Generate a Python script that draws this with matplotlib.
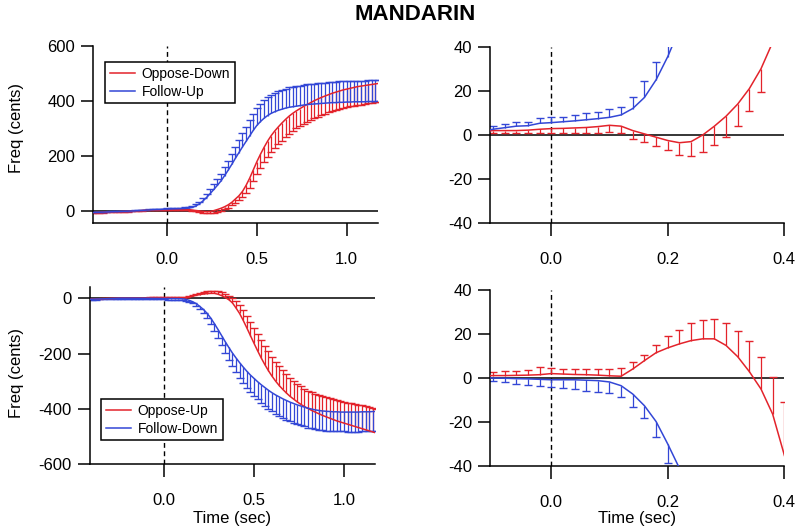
import numpy as np
import matplotlib
matplotlib.use("Agg")
import matplotlib.pyplot as plt

plt.rcParams['font.family'] = ['Liberation Sans', 'DejaVu Sans']
plt.rcParams['axes.unicode_minus'] = False

RED = '#e3232b'
BLUE = '#3347d6'

# sample grid: -0.42 s ... 1.18 s, every 0.02 s (81 samples)
t_start, t_step = -0.42, 0.02

# --- top row: Oppose-Down / Follow-Up (cents) ---
follow_up = [
    -7, -6.5, -6, -5.5, -5, -4.5, -4, -3.5, -3, -2.5,
    -2, -1.5, -0.8, 0, 0.8, 1.8, 2.6, 3.3, 4.0, 4.2,
    5.3, 5.6, 6.0, 6.4, 6.9, 7.4, 8.0, 9.1, 12, 17,
    25, 35.5, 48, 62, 77, 92, 108, 127, 147, 168,
    190, 211, 232, 252, 272, 292, 310, 324, 336, 346,
    354, 360, 365, 369, 373, 376, 378, 380, 382, 384,
    386, 387, 388, 389, 390, 391, 392, 393, 393, 394,
    394, 395, 395, 396, 396, 396, 396, 397, 397, 397,
    398]
follow_up_err = [
    1.5, 1.5, 1.5, 1.5, 1.5, 1.5, 1.5, 1.5, 1.5, 1.5,
    1.5, 1.5, 1.5, 1.5, 1.5, 1.5, 1.6, 1.5, 1.9, 1.7,
    2.4, 2.4, 2.3, 2.7, 3.1, 2.9, 3.6, 3.4, 5.0, 7.4,
    8, 9, 12, 15, 19, 23, 27, 31, 35, 39,
    43, 47, 51, 54, 57, 60, 62, 64, 66, 67,
    68, 69, 70, 71, 71, 72, 72, 73, 73, 73,
    74, 74, 74, 74, 75, 75, 75, 75, 76, 76,
    76, 76, 76, 77, 77, 77, 77, 77, 78, 78,
    78]
oppose_down = [
    -8, -7, -6.5, -6, -5.5, -5, -4.5, -4, -3.5, -3,
    -2.5, -2, -1.2, -0.5, 0.5, 1.5, 2.0, 2.0, 2.0, 2.2,
    2.6, 2.9, 3.0, 3.2, 3.4, 3.8, 4.4, 4.0, 2.0, 0.5,
    -1.0, -2.5, -3.5, -3.0, 0.0, 4.0, 8.5, 14, 21, 30,
    42, 54, 70, 92, 118, 148, 178, 205, 230, 253,
    273, 290, 305, 319, 332, 344, 354, 363, 371, 379,
    386, 393, 400, 406, 412, 417, 422, 427, 431, 435,
    439, 442, 445, 448, 451, 453, 455, 457, 459, 461,
    463]
oppose_down_err = [
    1.0, 1.0, 1.0, 1.0, 1.0, 1.0, 1.0, 1.0, 1.0, 1.0,
    1.0, 1.0, 1.0, 1.0, 1.0, 1.0, 1.0, 1.0, 1.1, 1.2,
    1.6, 2.0, 2.0, 2.2, 2.4, 2.8, 2.9, 3.2, 3.8, 3.5,
    4.0, 4.5, 5.4, 6.4, 7.5, 8.4, 9.2, 9.8, 10.1, 10.4,
    13, 17, 22, 28, 34, 40, 45, 50, 54, 57,
    60, 62, 63, 64, 64, 64, 64, 64, 64, 64,
    64, 64, 64, 64, 65, 65, 65, 65, 65, 65,
    66, 66, 66, 66, 66, 67, 67, 67, 67, 67,
    67]

# --- bottom row: Oppose-Up / Follow-Down (cents) ---
oppose_up = [
    -4, -3.5, -3, -2.5, -2, -1.5, -1, -0.5, 0, 0.3,
    0.5, 0.6, 0.7, 0.8, 0.9, 1.0, 1.1, 1.1, 1.2, 1.3,
    1.5, 2.0, 1.8, 1.6, 1.5, 1.3, 1.0, 0.8, 4.1, 7.9,
    11.5, 13.7, 15.5, 17.0, 17.8, 17.8, 14.8, 9.7, 2.9, -5.0,
    -16.4, -35, -55, -80, -107, -135, -163, -190, -216, -240,
    -262, -282, -300, -316, -330, -343, -355, -365, -375, -384,
    -392, -399, -406, -412, -418, -424, -429, -434, -439, -444,
    -448, -452, -456, -460, -464, -468, -472, -476, -480, -484,
    -488]
oppose_up_err = [
    1.5, 1.5, 1.5, 1.5, 1.5, 1.5, 1.5, 1.5, 1.5, 1.5,
    1.5, 1.5, 1.5, 1.5, 1.5, 1.5, 1.5, 1.9, 1.9, 2.3,
    3.4, 2.6, 2.5, 2.4, 2.6, 2.8, 2.9, 3.6, 3.0, 2.7,
    3.7, 5.3, 6.5, 7.8, 8.4, 9.0, 10.3, 11.7, 13.7, 14.4,
    16.7, 23.9, 30, 37, 44, 50, 56, 61, 65, 68,
    70, 71, 71, 71, 70, 69, 68, 67, 66, 65,
    65, 65, 66, 67, 68, 69, 70, 72, 73, 74,
    76, 77, 78, 80, 81, 82, 84, 85, 86, 87,
    88]
follow_down = [
    -4, -3.5, -3, -2.5, -2, -1.5, -1, -0.5, 0, 0.3,
    0.4, 0.4, 0.4, 0.3, 0.2, 0.1, 0.0, -0.1, -0.3, -0.4,
    -0.6, -0.8, -0.8, -0.8, -1.0, -1.2, -1.8, -3.5, -7.3, -12.6,
    -19.8, -30, -41, -55, -72, -92, -113, -135, -157, -178,
    -198, -216, -233, -249, -264, -278, -290, -302, -313, -323,
    -333, -342, -350, -357, -364, -370, -376, -381, -386, -390,
    -394, -398, -401, -404, -406, -408, -409, -410, -411, -411,
    -412, -412, -412, -412, -412, -412, -411, -411, -411, -410,
    -410]
follow_down_err = [
    1.5, 1.5, 1.5, 1.5, 1.5, 1.5, 1.5, 1.5, 1.5, 1.5,
    1.5, 1.5, 1.5, 1.5, 1.5, 1.5, 1.5, 1.9, 2.4, 2.8,
    3.0, 3.2, 3.6, 4.2, 4.8, 5.0, 5.2, 5.0, 5.7, 5.8,
    6.8, 8.8, 12, 16, 20, 25, 30, 35, 40, 44,
    48, 52, 55, 58, 60, 62, 63, 64, 65, 66,
    67, 67, 68, 68, 68, 69, 69, 69, 69, 69,
    70, 70, 70, 70, 70, 70, 70, 70, 70, 70,
    70, 70, 71, 71, 71, 71, 71, 71, 71, 71,
    71]

time_s = np.round(t_start + t_step * np.arange(len(follow_up)), 2)

W, H = 796, 531
FS = 12
fig = plt.figure(figsize=(W / 100, H / 100), dpi=100)


def px_axes(x0, y_top, x1, y_bot):
    # axes box given in pixel coords of the reference image
    return fig.add_axes([x0 / W, 1 - y_bot / H, (x1 - x0) / W, (y_bot - y_top) / H])


def style(ax, xlim, ylim, xticks, yticks, xfmt):
    ax.set_xlim(xlim)
    ax.set_ylim(ylim)
    ax.set_xticks(xticks)
    ax.set_yticks(yticks)
    ax.set_xticklabels([xfmt.format(v) for v in xticks])
    ax.set_yticklabels(['{:d}'.format(v) for v in yticks])
    for s in ('top', 'right'):
        ax.spines[s].set_visible(False)
    for s in ('left', 'bottom'):
        ax.spines[s].set_linewidth(1.1)
    ax.tick_params(direction='out', length=9, width=1.1, labelsize=FS)
    ax.tick_params(axis='x', pad=12)
    ax.tick_params(axis='y', pad=4)
    ax.axhline(0, color='black', lw=1.1, zorder=1)
    ax.axvline(0, color='black', lw=1.0, ls=(0, (3.5, 2.5)), zorder=1)


def trace(ax, mean, err, sign, color, ylim, label=None):
    mean = np.asarray(mean, float)
    tip = mean + sign * np.asarray(err, float)
    line, = ax.plot(time_s, mean, color=color, lw=1.1, zorder=3, label=label)
    keep = (mean >= ylim[0]) & (mean <= ylim[1])
    ax.vlines(time_s[keep], mean[keep], tip[keep], colors=color, lw=0.9, zorder=2)
    ax.plot(time_s[keep], tip[keep], ls='none', marker='_', ms=5.5, mew=1.0,
            color=color, zorder=2)
    return line


def add_legend(ax, handles, x0, y0):
    leg = ax.legend(handles=handles, loc='upper left', bbox_to_anchor=(x0 / W, 1 - y0 / H),
                    bbox_transform=fig.transFigure, borderaxespad=0, fontsize=10,
                    frameon=True, fancybox=False, framealpha=1, edgecolor='black',
                    handlelength=1.8, handletextpad=0.5, labelspacing=0.25, borderpad=0.35)
    leg.get_frame().set_linewidth(1.1)


# top left
ax_tl = px_axes(93, 45.7, 378, 223)
ylim = (-45, 600)
style(ax_tl, (-0.413, 1.175), ylim, [0.0, 0.5, 1.0], [0, 200, 400, 600], '{:.1f}')
l1 = trace(ax_tl, oppose_down, oppose_down_err, -1, RED, ylim, 'Oppose-Down')
l2 = trace(ax_tl, follow_up, follow_up_err, +1, BLUE, ylim, 'Follow-Up')
add_legend(ax_tl, [l1, l2], 105, 62.3)

# top right
ax_tr = px_axes(490, 46.7, 784.3, 223.3)
ylim = (-40, 40)
style(ax_tr, (-0.105, 0.4), ylim, [0.0, 0.2, 0.4], [-40, -20, 0, 20, 40], '{:.1f}')
trace(ax_tr, oppose_down, oppose_down_err, -1, RED, ylim)
trace(ax_tr, follow_up, follow_up_err, +1, BLUE, ylim)

# bottom left
ax_bl = px_axes(90, 286.7, 375, 464)
ylim = (-600, 42)
style(ax_bl, (-0.411, 1.172), ylim, [0.0, 0.5, 1.0], [-600, -400, -200, 0], '{:.1f}')
l3 = trace(ax_bl, oppose_up, oppose_up_err, +1, RED, ylim, 'Oppose-Up')
l4 = trace(ax_bl, follow_down, follow_down_err, -1, BLUE, ylim, 'Follow-Down')
add_legend(ax_bl, [l3, l4], 100.7, 399.3)

# bottom right
ax_br = px_axes(490, 290, 784.3, 466)
ylim = (-40, 40)
style(ax_br, (-0.105, 0.4), ylim, [0.0, 0.2, 0.4], [-40, -20, 0, 20, 40], '{:.1f}')
trace(ax_br, oppose_up, oppose_up_err, +1, RED, ylim)
trace(ax_br, follow_down, follow_down_err, -1, BLUE, ylim)

# labels
fig.text(415 / W, 1 - 15 / H, 'MANDARIN', ha='center', va='center',
         fontsize=16, fontweight='bold')
fig.text(17 / W, 1 - 128 / H, 'Freq (cents)', rotation=90, ha='center', va='center', fontsize=FS)
fig.text(17 / W, 1 - 373 / H, 'Freq (cents)', rotation=90, ha='center', va='center', fontsize=FS)
fig.text(232 / W, 1 - 518 / H, 'Time (sec)', ha='center', va='center', fontsize=FS)
fig.text(637 / W, 1 - 518 / H, 'Time (sec)', ha='center', va='center', fontsize=FS)

fig.savefig('out.png', dpi=100)
